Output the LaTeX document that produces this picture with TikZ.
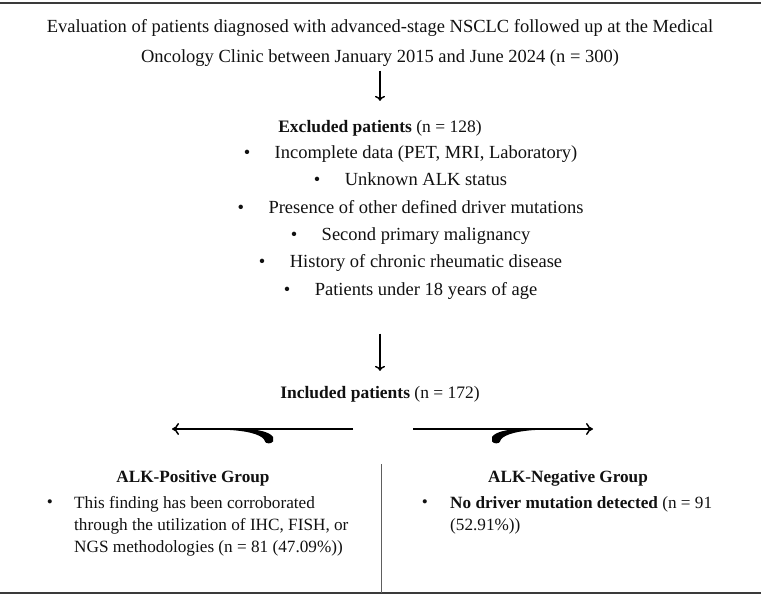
\documentclass[tikz,border=0pt]{standalone}
\usepackage{fontspec}
\setmainfont{Liberation Serif}
\usetikzlibrary{arrows.meta}
\definecolor{rulecol}{HTML}{3A3A3A}
\definecolor{sepcol}{HTML}{5E5E5E}
\definecolor{textcol}{HTML}{111111}

\begin{document}
\begin{tikzpicture}[x=1pt,y=-1pt,
	main/.style={font=\fontsize{18.5}{30}\selectfont,align=center,inner sep=0pt,text=textcol},
	head/.style={font=\fontsize{17.5}{30}\selectfont,inner sep=0pt,text=textcol},
	exitem/.style={font=\fontsize{18.5}{27}\selectfont,inner sep=0pt,anchor=base,text=textcol},
	grp/.style={font=\fontsize{17.2}{22}\selectfont\bfseries,inner sep=0pt,text=textcol},
	grptxt/.style={font=\fontsize{17.2}{22}\selectfont,inner sep=0pt,align=left,anchor=north west,text=textcol},
	darr/.style={line width=1.5pt,-{To[length=5pt,width=10pt]}},
	sarr/.style={line width=1.5pt,-{To[length=7pt,width=12pt]}}]
\useasboundingbox (0,0) rectangle (761,596);

% rules
\draw[rulecol,line width=1.3pt] (0,3) -- (761,3);
\draw[rulecol,line width=1.3pt] (0,593) -- (761,593);

% cohort
\node[main] (eval) at (380,43) {Evaluation of patients diagnosed with advanced-stage NSCLC followed up at the Medical\\Oncology Clinic between January 2015 and June 2024 (n = 300)};
\node[head] (excl) at (380,128) {\textbf{Excluded patients} (n = 128)};
\draw[darr,shorten <=4pt,shorten >=19pt] (eval.south) -- (excl.north);

\foreach \txt [count=\i] in {
	{Incomplete data (PET, MRI, Laboratory)},
	{Unknown ALK status},
	{Presence of other defined driver mutations},
	{Second primary malignancy},
	{History of chronic rheumatic disease},
	{Patients under 18 years of age}%
	}{
	\node[exitem] (ex\i) at (426,131+27.4*\i) {\txt};
	\node[exitem,anchor=base east] at ([xshift=-24pt]ex\i.base west) {\textbullet};
	}

\node[head] (incl) at (380,394) {\textbf{Included patients} (n = 172)};
\draw[darr,shorten <=34pt,shorten >=15pt] (excl.south |- ex6.south) -- (incl.north);

% split arrows
\coordinate (lbeg) at (353,429);
\coordinate (lend) at (172,429);
\coordinate (rbeg) at (413,429);
\coordinate (rend) at (593,429);
\draw[sarr] (lbeg) -- (lend);
\draw[sarr] (rbeg) -- (rend);
\fill (230,428.4) .. controls (255,428.5) and (269,431) .. (273,437) -- (273,441.5) .. controls (271,444) and (266,444) .. (265,441.5) .. controls (264,436) and (252,431.3) .. (230,430) -- cycle;
\fill (535,428.4) .. controls (510,428.5) and (496,431) .. (492,437) -- (492,441.5) .. controls (494,444) and (499,444) .. (500,441.5) .. controls (501,436) and (513,431.3) .. (535,430) -- cycle;

% groups
\draw[sepcol,line width=1pt] (381,464) -- (381,593);

\node[grp] (pos) at (193,478) {ALK-Positive Group};
\node[grptxt] (postxt) at (74,496) {This finding has been corroborated\\through the utilization of IHC, FISH, or\\NGS methodologies (n = 81 (47.09\%))};
\node[grptxt,anchor=center] (posbul) at (50,504) {\textbullet};

\node[grp] (neg) at (568,478) {ALK-Negative Group};
\node[grptxt] (negtxt) at (450,496) {\textbf{No driver mutation detected} (n = 91\\(52.91\%))};
\node[grptxt,anchor=center] (negbul) at (425,504) {\textbullet};
\end{tikzpicture}
\end{document}
